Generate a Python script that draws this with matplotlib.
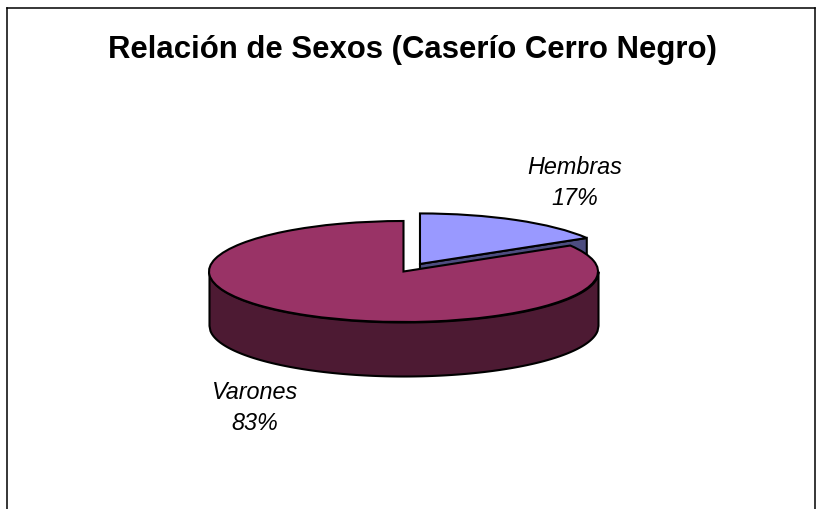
import numpy as np
import matplotlib
matplotlib.use("Agg")
import matplotlib.pyplot as plt

title = "Relación de Sexos (Caserío Cerro Negro)"
categories = ["Hembras", "Varones"]
values = [16.4, 83.6]
percent_labels = [17, 83]
top_colors = ["#9999FF", "#993366"]
wall_colors = ["#4D4D80", "#4D1A33"]

W, H = 817, 510
CX, CY, RX, RY = 403.5, 272.5, 194.5, 50.5
DEPTH = 54 / RY
EXPLODE = 0.172
LW = 1.5

fig = plt.figure(figsize=(W / 100, H / 100), dpi=100, facecolor="white")
ax = fig.add_axes([6.5 / W, 0, 809 / W, 501 / H])

wedges, _ = ax.pie(values, explode=[EXPLODE, 0], colors=top_colors, startangle=90,
                   counterclock=False, radius=1,
                   wedgeprops=dict(edgecolor="black", linewidth=LW))
ax.set_aspect("auto")
ax.set_frame_on(True)
ax.set_xlim((6.5 - CX) / RX, (815.5 - CX) / RX)
ax.set_ylim((CY - 510) / RY, (CY - 9) / RY)
ax.set_xticks([])
ax.set_yticks([])
for side, sp in ax.spines.items():
    sp.set_visible(side != "bottom")
    sp.set_linewidth(1.1)
    sp.set_color("black")

# exploded slice: radial cut face
theta = 2 * np.pi * values[0] / sum(values)
mid = theta / 2
tx, ty = EXPLODE * np.sin(mid), EXPLODE * np.cos(mid)
rx, ry = tx + np.sin(theta), ty + np.cos(theta)
ax.fill([tx, rx, rx, tx], [ty, ry, ry - DEPTH, ty - DEPTH], facecolor=wall_colors[0],
        edgecolor="black", linewidth=LW, zorder=1.0)
wedges[0].set_zorder(1.1)

# large slice: front wall
xs = np.linspace(-1, 1, 400)
ys = -np.sqrt(1 - xs ** 2)
ax.fill_between(xs, ys - DEPTH, ys, facecolor=wall_colors[1], edgecolor="black",
                linewidth=LW, zorder=1.2)
wedges[1].set_zorder(1.3)

font = "Liberation Sans"
fig.text(412.5 / W, 1 - 58 / H, title, ha="center", va="baseline", family=font,
         fontweight="bold", fontsize=22.4, color="black")

labels = [f"{c}\n{v}%" for c, v in zip(categories, percent_labels)]
for lab, px, py in zip(labels, [575, 255], [205, 430]):
    fig.text(px / W, 1 - py / H, lab, ha="center", va="baseline", family=font,
             style="italic", fontsize=16.8, linespacing=1.47, color="black")

fig.savefig("out.png", dpi=100)
